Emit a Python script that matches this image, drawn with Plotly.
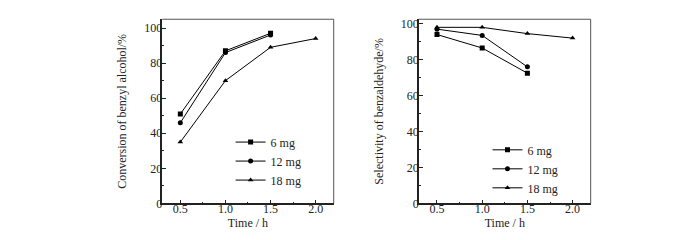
import plotly.graph_objects as go

time_6 = [0.5, 1.0, 1.5]
time_12 = [0.5, 1.0, 1.5]
time_18 = [0.5, 1.0, 1.5, 2.0]

conv_6 = [51, 87, 97]
conv_12 = [46, 86, 96]
conv_18 = [35, 70, 89, 94]

sel_6 = [94, 86.5, 72.5]
sel_12 = [97, 93.5, 76]
sel_18 = [98, 98, 94.5, 92]

labels = ["6 mg", "12 mg", "18 mg"]
symbols = ["square", "circle", "triangle-up"]

FONT = "Liberation Serif"
fig = go.Figure()

left = [(time_6, conv_6), (time_12, conv_12), (time_18, conv_18)]
right = [(time_6, sel_6), (time_12, sel_12), (time_18, sel_18)]

for (t, v), lab, sym in zip(left, labels, symbols):
    fig.add_trace(go.Scatter(x=t, y=v, name=lab, mode="lines+markers",
                             line=dict(color="black", width=1),
                             marker=dict(symbol=sym, size=5, color="black"),
                             xaxis="x", yaxis="y", legend="legend"))
for (t, v), lab, sym in zip(right, labels, symbols):
    fig.add_trace(go.Scatter(x=t, y=v, name=lab, mode="lines+markers",
                             line=dict(color="black", width=1),
                             marker=dict(symbol=sym, size=5, color="black"),
                             xaxis="x2", yaxis="y2", legend="legend2"))

def xax(domain, anchor):
    return dict(domain=domain, anchor=anchor, range=[0.3, 2.2], tick0=0.5, dtick=0.5,
                tickformat=".1f", ticks="inside", ticklen=4, tickwidth=1, tickcolor="#222",
                minor=dict(dtick=0.25, tick0=0.5, ticks="inside", ticklen=2, tickcolor="#222"),
                showline=True, linecolor="#222", linewidth=1.5, mirror=False,
                showgrid=False, zeroline=False, ticklabelstandoff=-7,
                tickfont=dict(family=FONT, size=12, color="#222"),
                title=dict(text="Time / h", font=dict(family=FONT, size=12, color="#222"), standoff=0))

def yax(domain, anchor, rng, title):
    return dict(domain=domain, anchor=anchor, range=rng, tick0=0, dtick=20,
                ticks="inside", ticklen=4, tickwidth=1, tickcolor="#222",
                minor=dict(dtick=10, tick0=0, ticks="inside", ticklen=2, tickcolor="#222"),
                showline=True, linecolor="#222", linewidth=1.5, mirror=False,
                showgrid=False, zeroline=False, ticklabelstandoff=-4,
                tickfont=dict(family=FONT, size=12, color="#222"),
                title=dict(text=title, font=dict(family=FONT, size=12, color="#222"), standoff=15))

ydom = [0.1625, 0.96]
fig.update_layout(
    width=700, height=240,
    margin=dict(l=0, r=0, t=0, b=0),
    paper_bgcolor="white", plot_bgcolor="white",
    xaxis=xax([0.2204, 0.4653], "y"),
    yaxis=yax(ydom, "x", [0, 105], "Conversion of benzyl alcohol/%"),
    xaxis2=xax([0.587, 0.8324], "y2"),
    yaxis2=yax(ydom, "x2", [0, 102.5], "Selectivity of benzaldehyde/%"),
    legend=dict(x=0.318, y=0.346, xanchor="left", yanchor="middle",
                bgcolor="rgba(0,0,0,0)", font=dict(family=FONT, size=12, color="#222")),
    legend2=dict(x=0.685, y=0.3125, xanchor="left", yanchor="middle",
                 bgcolor="rgba(0,0,0,0)", font=dict(family=FONT, size=12, color="#222")),
    showlegend=True,
)

for xr, yr in [("x domain", "y domain"), ("x2 domain", "y2 domain")]:
    fig.add_shape(type="line", xref=xr, yref=yr, x0=0, x1=1, y0=1, y1=1,
                  line=dict(color="#555", width=1))
    fig.add_shape(type="line", xref=xr, yref=yr, x0=1, x1=1, y0=0, y1=1,
                  line=dict(color="#555", width=1))

fig.write_html("out.html")
